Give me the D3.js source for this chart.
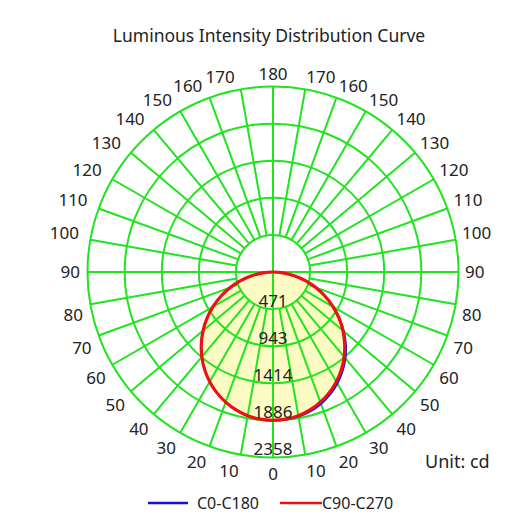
<!DOCTYPE html>
<html>
<head>
<meta charset="utf-8">
<script src="https://cdn.jsdelivr.net/npm/d3@7"></script>
<style>
  body { margin: 0; background: #fff; }
  text { font-family: "Noto Sans", "Open Sans", sans-serif; fill: #222; }
</style>
</head>
<body>
<div class="chart"></div>
<script>
// gamma angles (deg from nadir) and intensities in cd
const gamma = [0, 5, 10, 15, 20, 25, 30, 35, 40, 45, 50, 55, 60, 65, 70, 75, 80, 85, 90];
const c0   = [1886, 1882, 1866, 1833, 1784, 1718, 1637, 1541, 1432, 1311, 1175, 1032, 884, 733, 580, 426, 275, 129, 0];
const c180 = [1886, 1878, 1855, 1815, 1760, 1692, 1610, 1515, 1407, 1288, 1160, 1024, 880, 731, 579, 426, 275, 129, 0];
const c90  = [1886, 1878, 1855, 1815, 1760, 1692, 1610, 1515, 1407, 1288, 1160, 1024, 880, 731, 579, 426, 275, 129, 0];
const c270 = [1886, 1878, 1855, 1815, 1760, 1692, 1610, 1515, 1407, 1288, 1160, 1024, 880, 731, 579, 426, 275, 129, 0];

const ringValues = [471, 943, 1414, 1886, 2358];
const angleTicks = [0, 10, 20, 30, 40, 50, 60, 70, 80, 90, 100, 110, 120, 130, 140, 150, 160, 170, 180];
const series = [
  {name: 'C0-C180', right: c0, left: c180, color: '#1010ee'},
  {name: 'C90-C270', right: c90, left: c270, color: '#ee1111'}
];

const width = 530, height = 514;
const cx = 273, cy = 272, R = 185.5;
const grid = '#1fe41f';

const svg = d3.select('.chart').append('svg')
  .attr('width', width)
  .attr('height', height);

const rScale = d3.scaleLinear()
  .domain([0, 2358])
  .range([0, R]);

const toRad = d => d * Math.PI / 180;

// title
svg.append('text')
  .attr('x', 269)
  .attr('y', 42)
  .attr('text-anchor', 'middle')
  .style('font-size', '17.5px')
  .text('Luminous Intensity Distribution Curve');

const g = svg.append('g')
  .attr('transform', `translate(${cx},${cy})`);

// points for a closed curve: right half (nadir->90) then left half (back)
function curvePoints(s) {
  const pts = gamma.map((a, i) => [Math.PI - toRad(a), rScale(s.right[i])]);
  for (let i = gamma.length - 2; i > 0; i--) {
    pts.push([Math.PI + toRad(gamma[i]), rScale(s.left[i])]);
  }
  return pts;
}

const radial = d3.lineRadial()
  .angle(d => d[0])
  .radius(d => d[1])
  .curve(d3.curveCatmullRomClosed);

// fill
g.append('path')
  .attr('d', radial(curvePoints(series[1])))
  .attr('fill', '#fdfbc4')
  .attr('stroke', 'none');

// rings
g.selectAll('.ring')
  .data(ringValues)
  .enter()
  .append('circle')
  .attr('class', 'ring')
  .attr('r', d => rScale(d))
  .attr('fill', 'none')
  .attr('stroke', grid)
  .attr('stroke-width', 2);

// spokes from inner ring outward, both sides
const spokeData = [];
angleTicks.forEach(a => {
  if (a === 0 || a === 90 || a === 180) return;
  spokeData.push(Math.PI - toRad(a));
  spokeData.push(Math.PI + toRad(a));
});
const r0 = rScale(ringValues[0]);
g.selectAll('.spoke')
  .data(spokeData)
  .enter()
  .append('line')
  .attr('class', 'spoke')
  .attr('x1', d => r0 * Math.sin(d))
  .attr('y1', d => -r0 * Math.cos(d))
  .attr('x2', d => R * Math.sin(d))
  .attr('y2', d => -R * Math.cos(d))
  .attr('stroke', grid)
  .attr('stroke-width', 2);

// full axes through the centre
g.append('line').attr('x1', 0).attr('x2', 0).attr('y1', -R).attr('y2', R)
  .attr('stroke', grid).attr('stroke-width', 2);
g.append('line').attr('x1', -R).attr('x2', R).attr('y1', 0).attr('y2', 0)
  .attr('stroke', grid).attr('stroke-width', 2);

// curves
series.forEach(s => {
  g.append('path')
    .attr('d', radial(curvePoints(s)))
    .attr('fill', 'none')
    .attr('stroke', s.color)
    .attr('stroke-width', s.name === 'C90-C270' ? 3.2 : 2);
});

// angle labels
const RL = 192;
const labels = [];
angleTicks.forEach(a => {
  if (a === 0 || a === 180) {
    labels.push({a: a, side: 0});
  } else {
    labels.push({a: a, side: 1});
    labels.push({a: a, side: -1});
  }
});
g.selectAll('.alabel')
  .data(labels)
  .enter()
  .append('text')
  .attr('class', 'alabel')
  .attr('x', d => {
    const x = d.side * RL * Math.sin(toRad(d.a));
    if (d.side < 0) return x - (d.a >= 100 ? 5 : 1);
    return x;
  })
  .attr('y', d => RL * Math.cos(toRad(d.a)))
  .attr('dy', d => d.a > 90 ? 0 : (d.a === 90 ? 6 : 16))
  .attr('text-anchor', d => d.side === 0 ? 'middle' : (d.side > 0 ? 'start' : 'end'))
  .style('font-size', '17px')
  .text(d => d.a);

// ring value labels down the nadir axis
g.selectAll('.rlabel')
  .data(ringValues)
  .enter()
  .append('text')
  .attr('class', 'rlabel')
  .attr('x', 0)
  .attr('y', d => rScale(d) - 2.5)
  .attr('text-anchor', 'middle')
  .style('font-size', '17px')
  .text(d => d);

// unit
svg.append('text')
  .attr('x', 425)
  .attr('y', 468)
  .style('font-size', '18px')
  .text('Unit: cd');

// legend
const legend = svg.append('g');
const legendPos = [{x: 148, len: 40, gap: 9}, {x: 280, len: 42, gap: 0}];
series.forEach((s, i) => {
  const p = legendPos[i];
  legend.append('line')
    .attr('x1', p.x).attr('x2', p.x + p.len)
    .attr('y1', 503).attr('y2', 503)
    .attr('stroke', s.color)
    .attr('stroke-width', 2.5);
  legend.append('text')
    .attr('x', p.x + p.len + p.gap)
    .attr('y', 509)
    .style('font-size', '16px')
    .text(s.name);
});
</script>
</body>
</html>
